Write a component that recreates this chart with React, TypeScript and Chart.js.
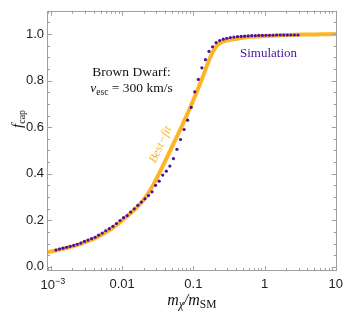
import React, { useEffect, useRef } from 'react';
import { Chart, registerables } from 'chart.js';

Chart.register(...registerables);

// Simulation points (m_chi / m_SM, f_cap)
const simMass = [
  0.001175, 0.001318, 0.001479, 0.00166, 0.001862, 0.002089, 0.002344, 0.00263, 0.002951, 0.003311,
  0.003715, 0.004169, 0.004677, 0.005248, 0.005888, 0.006607, 0.007413, 0.008318, 0.009333, 0.01047,
  0.01175, 0.01318, 0.01479, 0.0166, 0.01862, 0.02089, 0.02344, 0.0263, 0.02951, 0.03311,
  0.03715, 0.04169, 0.04677, 0.05248, 0.05888, 0.06607, 0.07413, 0.08318, 0.09333, 0.1047,
  0.1175, 0.1318, 0.1479, 0.166, 0.1862, 0.2089, 0.2344, 0.263, 0.2951, 0.3311,
  0.3715, 0.4169, 0.4677, 0.5248, 0.5888, 0.6607, 0.7413, 0.8318, 0.9333, 1.047,
  1.175, 1.318, 1.479, 1.66, 1.862, 2.089, 2.344, 2.63, 2.951,
];
const simFcap = [
  0.072, 0.076, 0.08, 0.084, 0.088, 0.092, 0.097, 0.102, 0.109, 0.115,
  0.121, 0.127, 0.136, 0.145, 0.155, 0.164, 0.174, 0.186, 0.199, 0.211,
  0.22, 0.235, 0.249, 0.264, 0.278, 0.292, 0.306, 0.322, 0.35, 0.368,
  0.394, 0.411, 0.433, 0.465, 0.505, 0.547, 0.59, 0.63, 0.685, 0.752,
  0.805, 0.855, 0.89, 0.926, 0.945, 0.963, 0.972, 0.978, 0.982, 0.985,
  0.987, 0.989, 0.99, 0.991, 0.992, 0.993, 0.993, 0.994, 0.994, 0.995,
  0.995, 0.995, 0.996, 0.996, 0.996, 0.996, 0.996, 0.996, 0.996,
];

// Best-fit curve
const fitMass = [
  0.000828, 0.001042, 0.001312, 0.001652, 0.00208, 0.002618, 0.003296, 0.00415, 0.005224, 0.006577,
  0.008279, 0.01042, 0.01312, 0.01652, 0.0208, 0.02618, 0.03296, 0.0415, 0.05224, 0.06577,
  0.08279, 0.1042, 0.1312, 0.1652, 0.1854, 0.208, 0.2333, 0.2618, 0.3296, 0.415,
  0.5224, 0.6577, 0.8279, 1.042, 1.652, 2.618, 4.15, 6.577, 10.42, 13.12,
];
const fitFcap = [
  0.06, 0.067, 0.074, 0.081, 0.089, 0.099, 0.11, 0.123, 0.139, 0.157,
  0.179, 0.204, 0.23, 0.259, 0.294, 0.342, 0.4, 0.463, 0.527, 0.591,
  0.658, 0.73, 0.805, 0.885, 0.92, 0.945, 0.96, 0.968, 0.975, 0.98,
  0.985, 0.988, 0.99, 0.992, 0.995, 0.997, 0.998, 0.999, 1.0, 1.0,
];

const xTickValues = [0.001, 0.01, 0.1, 1, 10];
const xTickLabels = ['10^-3', '0.01', '0.1', '1', '10'];
const yTickValues = [0, 0.2, 0.4, 0.6, 0.8, 1.0];
const yTickLabels = ['0.0', '0.2', '0.4', '0.6', '0.8', '1.0'];

const X_MIN = 0.00088;
const X_MAX = 10.33;
const Y_MIN = -0.018;
const Y_MAX = 1.1;

const PURPLE = '#4a12a3';
const ORANGE = '#fdb526';
const FRAME = '#a0a0a0';
const SANS = '"Liberation Sans", Arial, sans-serif';
const SERIF = '"Liberation Serif", "Times New Roman", serif';

type Run = { text: string; font: string; dy?: number };

function drawRuns(ctx: CanvasRenderingContext2D, runs: Run[], x: number, y: number, align: 'center' | 'left') {
  let w = 0;
  for (const r of runs) {
    ctx.font = r.font;
    w += ctx.measureText(r.text).width;
  }
  let cx = align === 'center' ? x - w / 2 : x;
  ctx.textAlign = 'left';
  ctx.textBaseline = 'alphabetic';
  for (const r of runs) {
    ctx.font = r.font;
    ctx.fillText(r.text, cx, y + (r.dy || 0));
    cx += ctx.measureText(r.text).width;
  }
}

const decorPlugin = {
  id: 'decor',
  afterDatasetsDraw(chart: any) {
    const ctx: CanvasRenderingContext2D = chart.ctx;
    const { left, right, top, bottom } = chart.chartArea;
    const xs = chart.scales.x;
    const ys = chart.scales.y;
    ctx.save();
    // frame
    ctx.strokeStyle = FRAME;
    ctx.lineWidth = 1;
    ctx.strokeRect(Math.round(left) + 0.5, Math.round(top) + 0.5, Math.round(right - left) - 1, Math.round(bottom - top) - 1);
    // ticks
    const xMinor: number[] = [];
    for (let e = -4; e <= 1; e++) {
      for (let k = 2; k <= 9; k++) {
        const v = k * Math.pow(10, e);
        if (v > X_MIN && v < X_MAX) xMinor.push(v);
      }
    }
    const yMinor: number[] = [];
    for (let i = 0; i <= 22; i++) {
      const v = i * 0.05;
      if (v <= Y_MAX && Math.abs(v * 5 - Math.round(v * 5)) > 1e-6) yMinor.push(v);
    }
    ctx.beginPath();
    const tick = (px: number, len: number) => {
      const p = Math.round(px) + 0.5;
      ctx.moveTo(p, bottom);
      ctx.lineTo(p, bottom - len);
      ctx.moveTo(p, top);
      ctx.lineTo(p, top + len);
    };
    const ytick = (py: number, len: number) => {
      const p = Math.round(py) + 0.5;
      ctx.moveTo(left, p);
      ctx.lineTo(left + len, p);
      ctx.moveTo(right, p);
      ctx.lineTo(right - len, p);
    };
    xTickValues.forEach((v) => tick(xs.getPixelForValue(v), 5));
    xMinor.forEach((v) => tick(xs.getPixelForValue(v), 3));
    yTickValues.forEach((v) => ytick(ys.getPixelForValue(v), 5));
    yMinor.forEach((v) => ytick(ys.getPixelForValue(v), 3));
    ctx.stroke();

    // superscript tick labels
    ctx.fillStyle = '#222';
    xTickLabels.forEach((lab, i) => {
      if (lab.includes('^')) {
        const [b, e] = lab.split('^');
        const px = xs.getPixelForValue(xTickValues[i]);
        drawRuns(ctx, [
          { text: b, font: `13px ${SANS}` },
          { text: e.replace('-', '\u2212'), font: `9px ${SANS}`, dy: -5 },
        ], px + 2, bottom + 18, 'center');
      }
    });

    // annotations
    ctx.fillStyle = '#111';
    const bx = xs.getPixelForValue(0.01355);
    drawRuns(ctx, [{ text: 'Brown Dwarf:', font: `13.5px ${SERIF}` }], bx, ys.getPixelForValue(0.818), 'center');
    drawRuns(ctx, [
      { text: 'v', font: `italic 13.5px ${SERIF}` },
      { text: 'esc', font: `9.5px ${SERIF}`, dy: 3 },
      { text: ' = 300 km/s', font: `13.5px ${SERIF}` },
    ], bx, ys.getPixelForValue(0.749), 'center');

    ctx.fillStyle = PURPLE;
    drawRuns(ctx, [{ text: 'Simulation', font: `13px ${SERIF}` }], xs.getPixelForValue(1.136), ys.getPixelForValue(0.9025), 'center');

    ctx.save();
    ctx.fillStyle = ORANGE;
    ctx.translate(xs.getPixelForValue(0.0347), ys.getPixelForValue(0.525));
    ctx.rotate((-65.5 * Math.PI) / 180);
    ctx.textBaseline = 'middle';
    ctx.font = `italic 12px ${SERIF}`;
    ctx.textAlign = 'center';
    ctx.fillText('Best\u2212fit', 0, 0);
    ctx.restore();

    // axis titles
    ctx.fillStyle = '#111';
    drawRuns(ctx, [
      { text: 'm', font: `italic 16px ${SERIF}` },
      { text: '\u03c7', font: `italic 11.5px ${SERIF}`, dy: 3 },
      { text: '/', font: `italic 16px ${SERIF}` },
      { text: 'm', font: `italic 16px ${SERIF}` },
      { text: 'SM', font: `11.5px ${SERIF}`, dy: 3 },
    ], (left + right) / 2, 305, 'center');

    ctx.save();
    ctx.translate(22, (top + bottom) / 2 - 22);
    ctx.rotate(-Math.PI / 2);
    drawRuns(ctx, [
      { text: 'f', font: `italic 15px ${SERIF}` },
      { text: 'cap', font: `10px ${SERIF}`, dy: 3 },
    ], 0, 0, 'center');
    ctx.restore();

    ctx.restore();
  },
};

export default function App() {
  const ref = useRef<HTMLCanvasElement | null>(null);
  useEffect(() => {
    if (!ref.current) return;
    const chart = new Chart(ref.current, {
      type: 'line',
      data: {
        datasets: [
          {
            type: 'scatter',
            label: 'Simulation',
            data: simMass.map((m, i) => ({ x: m, y: simFcap[i] })),
            backgroundColor: PURPLE,
            borderColor: PURPLE,
            pointRadius: 1.6,
            pointBorderWidth: 0,
            showLine: false,
            order: 0,
          },
          {
            type: 'line',
            label: 'Best-fit',
            data: fitMass.map((m, i) => ({ x: m, y: fitFcap[i] })),
            borderColor: ORANGE,
            borderWidth: 4,
            pointRadius: 0,
            fill: false,
            cubicInterpolationMode: 'monotone',
            order: 1,
          },
        ],
      },
      options: {
        animation: false,
        responsive: false,
        devicePixelRatio: 1,
        layout: { padding: { left: 0, right: 9, top: 5, bottom: 0 } },
        plugins: { legend: { display: false }, tooltip: { enabled: false } },
        scales: {
          x: {
            type: 'logarithmic',
            min: X_MIN,
            max: X_MAX,
            grid: { display: false, drawTicks: false },
            border: { display: false },
            afterBuildTicks: (s: any) => {
              s.ticks = xTickValues.map((v) => ({ value: v, major: false }));
            },
            afterFit: (s: any) => {
              s.height = 46;
            },
            ticks: {
              autoSkip: false,
              maxRotation: 0,
              padding: 6,
              color: '#222',
              font: { family: SANS, size: 13 },
              callback: (_v: any, i: number) => (xTickLabels[i].includes('^') ? '' : xTickLabels[i]),
            },
          },
          y: {
            type: 'linear',
            min: Y_MIN,
            max: Y_MAX,
            grid: { display: false, drawTicks: false },
            border: { display: false },
            afterBuildTicks: (s: any) => {
              s.ticks = yTickValues.map((v) => ({ value: v }));
            },
            afterFit: (s: any) => {
              s.width = 47;
            },
            ticks: {
              autoSkip: false,
              padding: 3,
              color: '#222',
              font: { family: SANS, size: 13 },
              callback: (_v: any, i: number) => yTickLabels[i],
            },
          },
        },
      },
      plugins: [decorPlugin],
    });
    return () => chart.destroy();
  }, []);
  return (
    <canvas
      ref={ref}
      width={349}
      height={317}
      style={{ position: 'absolute', left: 0, top: 0, width: 349, height: 317 }}
    />
  );
}
